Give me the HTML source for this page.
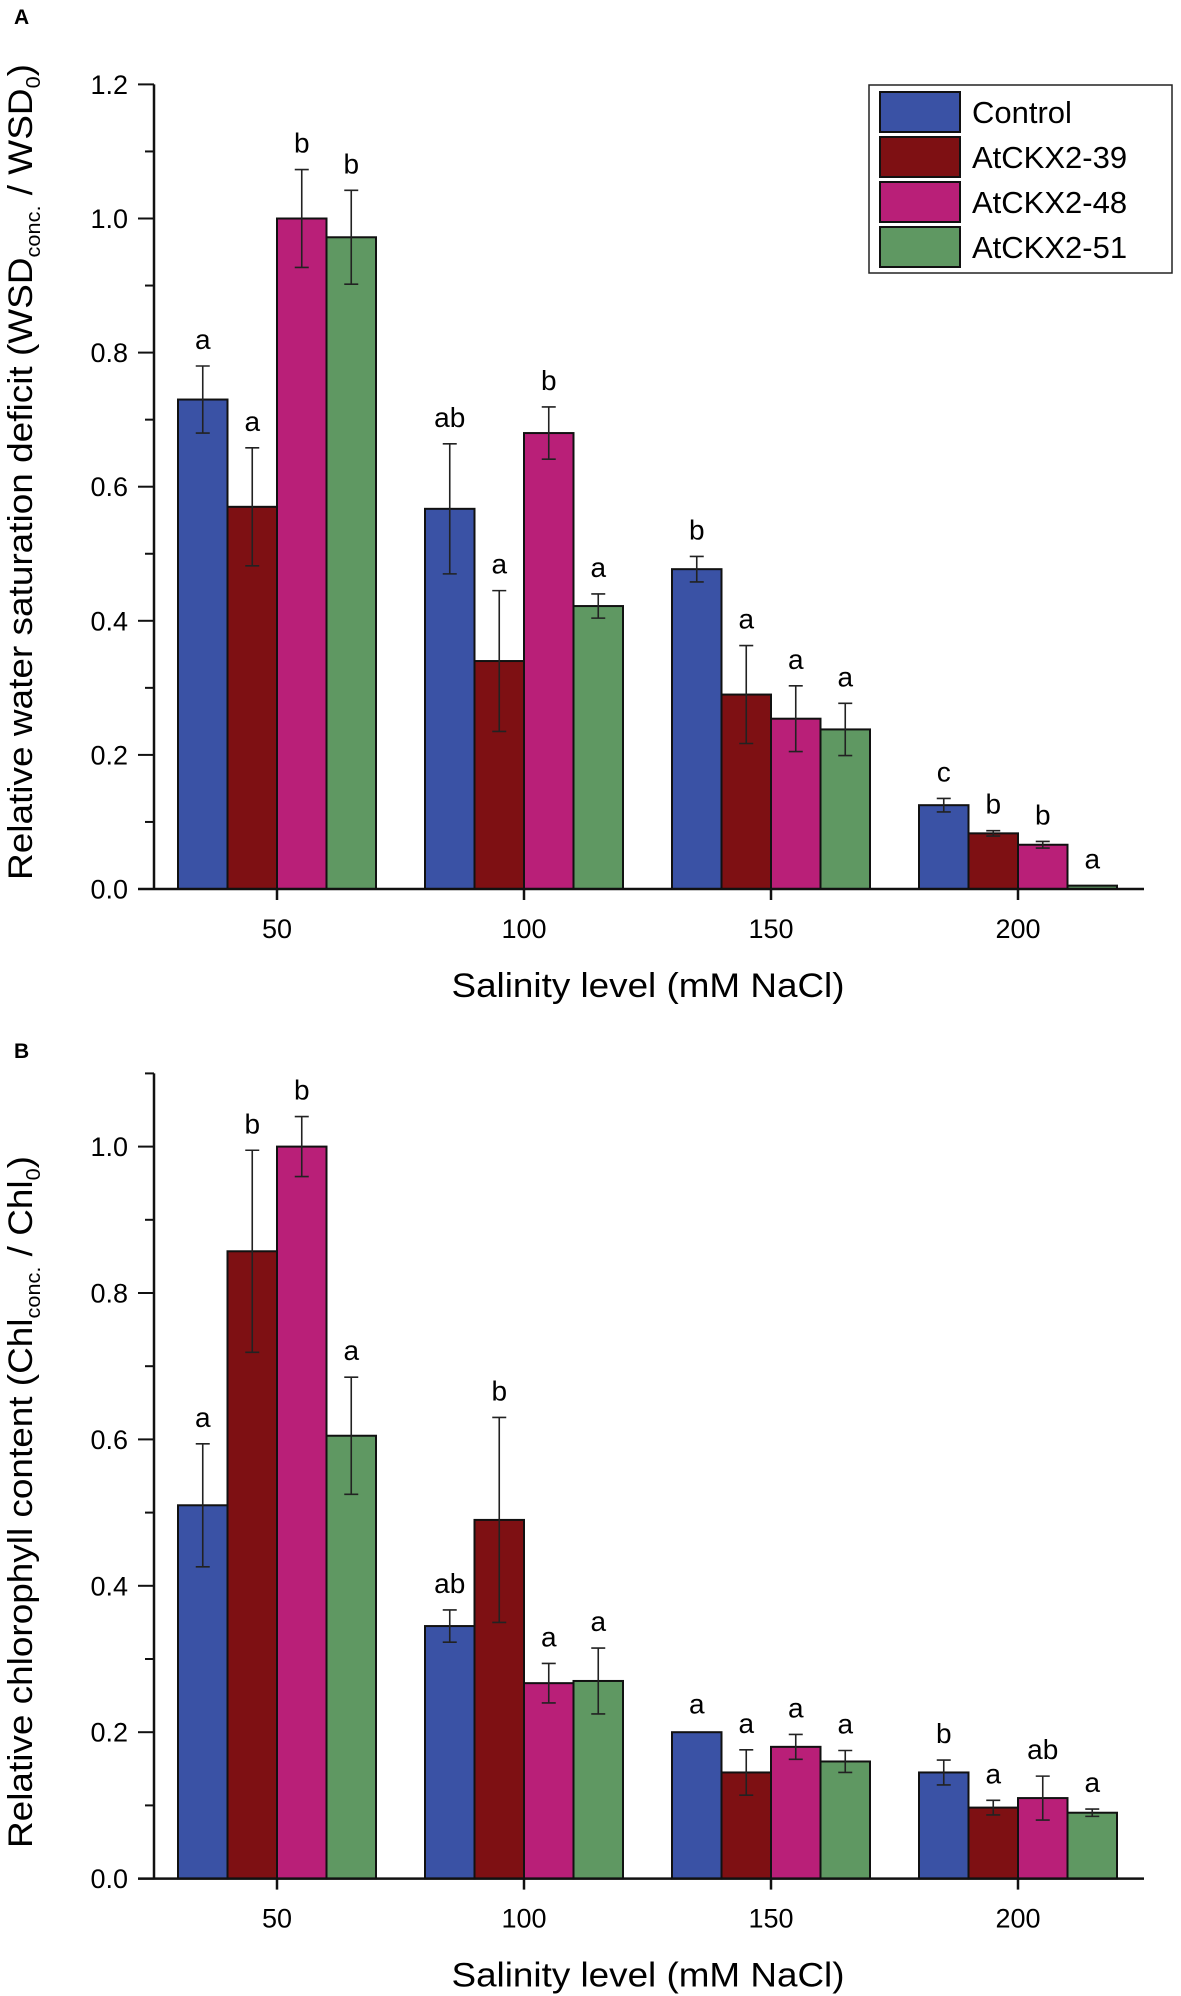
<!DOCTYPE html>
<html><head><meta charset="utf-8"><style>
html,body{margin:0;padding:0;background:#fff;}
svg{display:block;font-family:"Liberation Sans",Arial,sans-serif;}
</style></head><body>
<svg id="chart" width="1181" height="1996" viewBox="0 0 1181 1996" xmlns="http://www.w3.org/2000/svg"></svg>
<script>
const categories = ["50","100","150","200"];
const seriesNames = ["Control","AtCKX2-39","AtCKX2-48","AtCKX2-51"];
const colors = ["#3a52a5","#7e1013","#b91f78","#5f9862"];
// Panel A values
const aControl = [0.73,0.567,0.477,0.125];
const aL39 = [0.57,0.34,0.29,0.083];
const aL48 = [1.0,0.68,0.254,0.066];
const aL51 = [0.972,0.422,0.238,0.005];
const aErr = [[0.05,0.097,0.019,0.01],[0.088,0.105,0.073,0.004],[0.073,0.039,0.049,0.005],[0.07,0.018,0.039,0]];
const aLetters = [["a","ab","b","c"],["a","a","a","b"],["b","b","a","b"],["b","a","a","a"]];
const aTicks = ["0.0","0.2","0.4","0.6","0.8","1.0","1.2"];
// Panel B values
const bControl = [0.51,0.345,0.2,0.145];
const bL39 = [0.857,0.49,0.145,0.097];
const bL48 = [1.0,0.267,0.18,0.11];
const bL51 = [0.605,0.27,0.16,0.09];
const bErr = [[0.084,0.022,0.002,0.017],[0.138,0.14,0.031,0.01],[0.041,0.027,0.017,0.03],[0.08,0.045,0.015,0.005]];
const bLetters = [["a","ab","a","b"],["b","b","a","a"],["b","a","a","ab"],["a","a","a","a"]];
const bTicks = ["0.0","0.2","0.4","0.6","0.8","1.0"];

const NS="http://www.w3.org/2000/svg";
const svg=document.getElementById('chart');
function mk(tag,attrs,parent){const e=document.createElementNS(NS,tag);for(const k in attrs)e.setAttribute(k,attrs[k]);(parent||svg).appendChild(e);return e;}

function panel(opt){
  const g=mk('g',{});
  
  
  const x0=154, zeroY=opt.zeroY, pxPer=opt.pxPer;
  const yS=v=>zeroY-v*pxPer;
  const xC=i=>277+i*247;
  const bw=49.5;
  // letter
  const lab=mk('text',{x:14,y:opt.labelY,'font-size':21,'font-weight':'bold'},g);
  lab.textContent=opt.letter;
  
  
  // bars
  const series=opt.series;
  for(let s=0;s<4;s++){
    for(let c=0;c<4;c++){
      const v=series[s][c];
      const bx=xC(c)-2*bw+s*bw;
      const r=mk('rect',{x:bx,y:yS(v),width:bw,height:zeroY-yS(v),fill:colors[s],stroke:'#111','stroke-width':2},g);
      
      
      const e=opt.err[s][c];
      const cx=bx+bw/2;
      if(e>0.003){
        const eb=mk('path',{d:`M${cx-7},${yS(v+e)}H${cx+7}M${cx},${yS(v+e)}V${yS(v-e)}M${cx-7},${yS(v-e)}H${cx+7}`,stroke:'#222','stroke-width':1.6,fill:'none'},g);
        
        
      }
      const t=mk('text',{x:cx,y:yS(v+e)-17,'font-size':28,'text-anchor':'middle'},g);
      t.textContent=opt.letters[s][c];
      
      
    }
  }
  // axes
  const top=yS(opt.max);
  const ya=mk('line',{x1:x0,y1:top,x2:x0,y2:zeroY,stroke:'#111','stroke-width':2.5},g);
  
  
  const xa=mk('line',{x1:138,y1:zeroY,x2:1144,y2:zeroY,stroke:'#111','stroke-width':2.5},g);
  
  
  for(let k=0;k<=Math.round(opt.max*10);k++){
    const y=yS(k/10);
    const major=k%2===0;
    mk('line',{x1:major?138:145,y1:y,x2:x0,y2:y,stroke:'#111','stroke-width':2},g);
  }
  opt.ticks.forEach(tk=>{
    const t=mk('text',{x:128,y:yS(parseFloat(tk))+9.5,'font-size':27,'text-anchor':'end'},g);
    t.textContent=tk;
    
    
  });
  categories.forEach((c,i)=>{
    mk('line',{x1:xC(i),y1:zeroY,x2:xC(i),y2:zeroY+11,stroke:'#111','stroke-width':2.5},g);
    const t=mk('text',{x:xC(i),y:zeroY+49,'font-size':27,'text-anchor':'middle'},g);
    t.textContent=c;
    
    
  });
  const xt=mk('text',{x:648,y:zeroY+108,'font-size':34,'text-anchor':'middle',textLength:393,lengthAdjust:'spacingAndGlyphs'},g);
  xt.textContent='Salinity level (mM NaCl)';
  
  
  const yt=mk('text',{x:0,y:0,'font-size':34,'text-anchor':'middle',textLength:opt.ytLen,lengthAdjust:'spacingAndGlyphs',transform:`translate(32,${opt.ytMid}) rotate(-90)`},g);
  yt.innerHTML=opt.ytitle;
  
  
}

panel({name:'panel-a',letter:'A',labelY:24,zeroY:889,pxPer:670.5,max:1.2,ticks:aTicks,
  series:[aControl,aL39,aL48,aL51],err:aErr,letters:aLetters,ytLen:816,ytMid:472,
  ytitle:'Relative water saturation deficit (WSD<tspan font-size="20" dy="8">conc.</tspan><tspan dy="-8"> / WSD</tspan><tspan font-size="20" dy="8">0</tspan><tspan dy="-8">)</tspan>'});
panel({name:'panel-b',letter:'B',labelY:1058,zeroY:1878.6,pxPer:732,max:1.1,ticks:bTicks,
  series:[bControl,bL39,bL48,bL51],err:bErr,letters:bLetters,ytLen:692,ytMid:1502,
  ytitle:'Relative chlorophyll content (Chl<tspan font-size="20" dy="8">conc.</tspan><tspan dy="-8"> / Chl</tspan><tspan font-size="20" dy="8">0</tspan><tspan dy="-8">)</tspan>'});

// legend
const lg=mk('g',{});


mk('rect',{x:869,y:85,width:303,height:188,fill:'#fff',stroke:'#222','stroke-width':1.5},lg);
const rowY=[112,157,202,247];
seriesNames.forEach((n,i)=>{
  const e=mk('g',{},lg);
  
  
  mk('rect',{x:880,y:rowY[i]-20,width:80,height:40,fill:colors[i],stroke:'#111','stroke-width':2},e);
  const t=mk('text',{x:972,y:rowY[i]+11,'font-size':31},e);
  t.textContent=n;
});
</script>
</body></html>
